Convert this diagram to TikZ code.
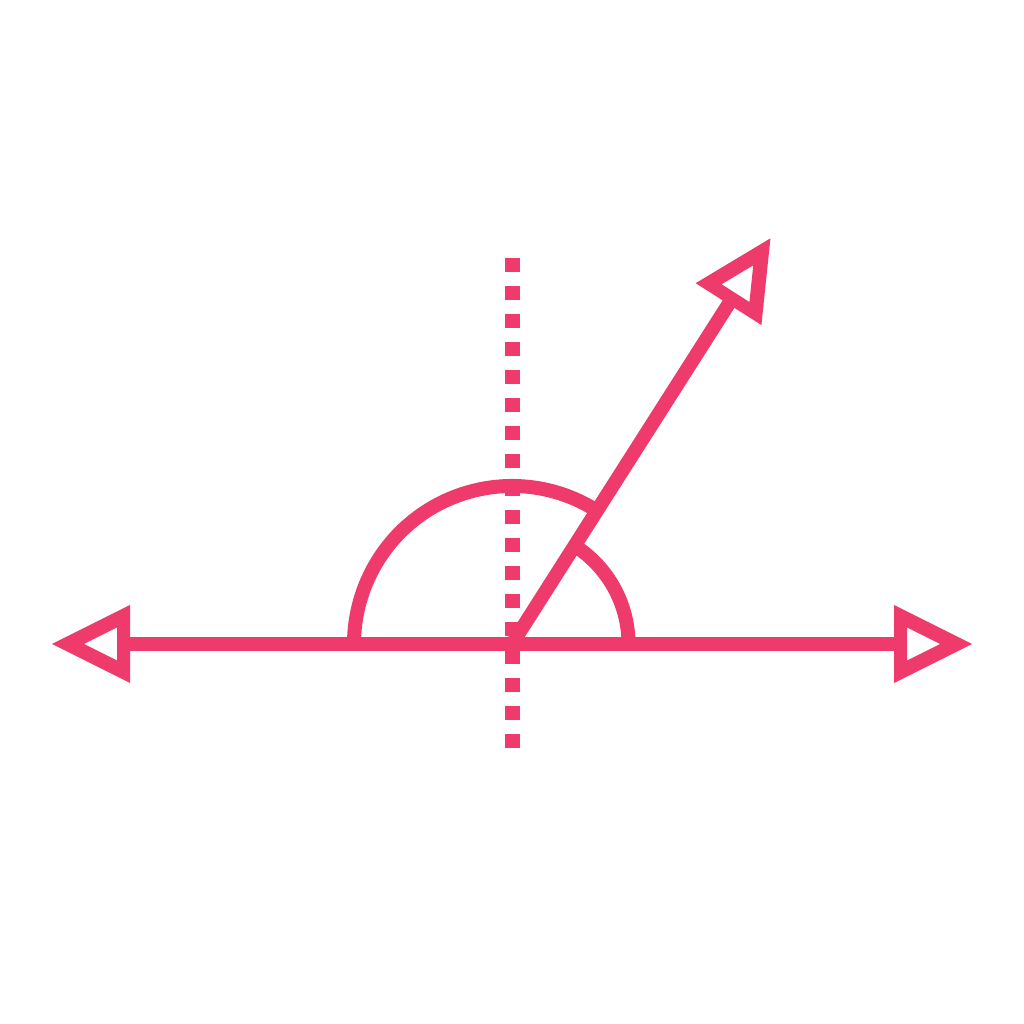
\documentclass[tikz,border=0pt]{standalone}
\definecolor{pinkred}{RGB}{238,59,107}
\newcommand{\myhead}[1]{\fill[pinkred,even odd rule] (#1,39) -- ({#1+78},0) -- (#1,-39) -- cycle
        ({#1+13},16.5) -- ({#1+46},0) -- ({#1+13},-16.5) -- cycle;}
\begin{document}
\begin{tikzpicture}[x=1pt,y=1pt,
  stroke/.style={draw=pinkred,line width=14pt}]
\useasboundingbox (0,0) rectangle (1024,1024);
\coordinate (O) at (512,380);
% dotted vertical line
\draw[pinkred,line width=15pt,dash pattern=on 14pt off 14pt] (512,766) -- (512,276);
% horizontal line
\draw[stroke] ([xshift=-388pt]O) -- ([xshift=388pt]O);
% arcs
\draw[stroke] ([shift={(57.5:158)}]O) arc[start angle=57.5,end angle=180,radius=158];
\draw[stroke] ([shift={(0:116.5)}]O) arc[start angle=0,end angle=57.5,radius=116.5];
% ray
\draw[stroke] (O) -- ([shift={(57.5:408)}]O);
% arrowheads
\begin{scope}[shift={(512,380)}]
  \myhead{382}
  \begin{scope}[xscale=-1] \myhead{382} \end{scope}
  \begin{scope}[rotate=57.5] \myhead{403} \end{scope}
\end{scope}
\end{tikzpicture}
\end{document}
